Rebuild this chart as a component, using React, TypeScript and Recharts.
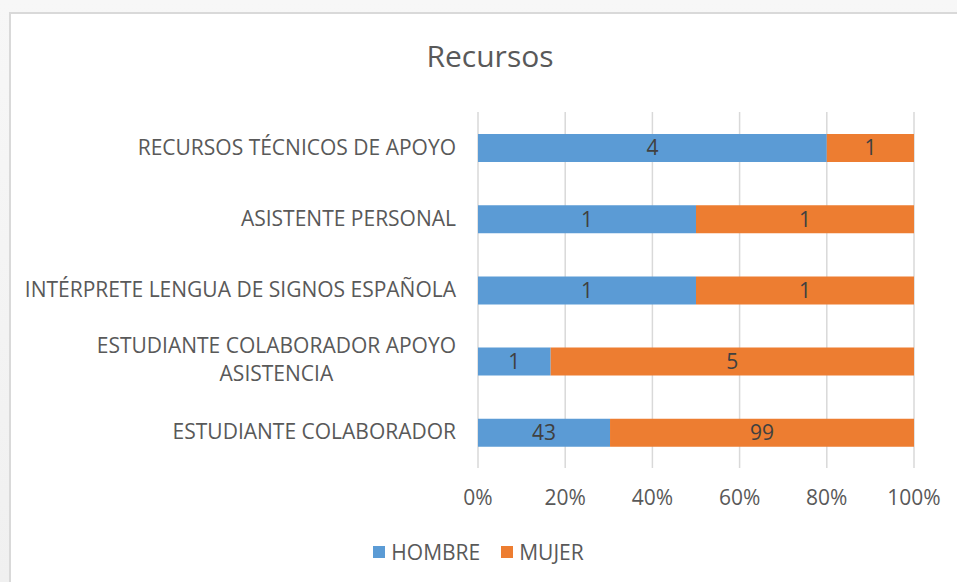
import React, { useLayoutEffect, useRef, useState } from "react";
import { BarChart, Bar, XAxis, YAxis, CartesianGrid, Legend, LabelList } from "recharts";

const categories = [
  "RECURSOS TÉCNICOS DE APOYO",
  "ASISTENTE PERSONAL",
  "INTÉRPRETE LENGUA DE SIGNOS ESPAÑOLA",
  "ESTUDIANTE COLABORADOR APOYO ASISTENCIA",
  "ESTUDIANTE COLABORADOR",
];
const hombre = [4, 1, 1, 1, 43];
const mujer = [1, 1, 1, 5, 99];
const xTicks = [0, 0.2, 0.4, 0.6, 0.8, 1];

const data = categories.map((c, i) => ({ name: c, HOMBRE: hombre[i], MUJER: mujer[i] }));

const FONT = "'Open Sans', sans-serif";
const TEXT = "#595959";
const BLUE = "#5B9BD5";
const ORANGE = "#ED7D31";
const FS = 21;

function CatTick(props: any) {
  const { x, y, payload } = props;
  const label: string = payload.value;
  const ref = useRef<SVGTextElement>(null);
  const [w, setW] = useState(0);
  const lines = label.length > 37
    ? [label.slice(0, label.lastIndexOf(" ")), label.slice(label.lastIndexOf(" ") + 1)]
    : [label];
  useLayoutEffect(() => {
    if (ref.current && lines.length > 1) {
      setW(ref.current.getComputedTextLength());
    }
  }, [label]);
  const right = x - 14;
  if (lines.length === 1) {
    return (
      <text x={right} y={y} dy={7} textAnchor="end" fill={TEXT} fontSize={FS} fontFamily={FONT}>
        {label}
      </text>
    );
  }
  const cx = right - w / 2;
  return (
    <g>
      <text ref={ref} x={cx} y={y - 15} dy={7} textAnchor="middle" fill={TEXT} fontSize={FS} fontFamily={FONT}>
        {lines[0]}
      </text>
      <text x={cx} y={y + 13} dy={7} textAnchor="middle" fill={TEXT} fontSize={FS} fontFamily={FONT}>
        {lines[1]}
      </text>
    </g>
  );
}

function LegendContent() {
  const items = [
    { name: "HOMBRE", color: BLUE },
    { name: "MUJER", color: ORANGE },
  ];
  return (
    <div style={{ display: "flex", justifyContent: "center", gap: 21, fontFamily: FONT, fontSize: FS, color: TEXT, lineHeight: "24px" }}>
      {items.map((it) => (
        <div key={it.name} style={{ display: "flex", alignItems: "center" }}>
          <span style={{ width: 12, height: 12, background: it.color, display: "inline-block", marginRight: 6 }} />
          <span>{it.name}</span>
        </div>
      ))}
    </div>
  );
}

export default function App() {
  return (
    <div style={{ position: "absolute", left: 0, top: 0, width: 957, height: 582, background: "linear-gradient(#f7f7f7, #f0f0f0)", overflow: "hidden" }}>
      <div style={{ position: "absolute", left: 9, top: 12, width: 960, height: 580, background: "#fff", border: "2px solid #d9d9d9", boxSizing: "border-box" }} />
      <div style={{ position: "absolute", left: 0, top: 0 }}>
        <BarChart
          width={957}
          height={582}
          data={data}
          layout="vertical"
          stackOffset="expand"
          margin={{ top: 112, right: 43, bottom: 40, left: 10 }}
          barCategoryGap="30%"
        >
          <CartesianGrid horizontal={false} stroke="#d9d9d9" strokeWidth={1.5} />
          <XAxis
            type="number"
            domain={[0, 1]}
            ticks={xTicks}
            tickFormatter={(v: number) => `${Math.round(v * 100)}%`}
            axisLine={false}
            tickLine={false}
            tick={{ fill: TEXT, fontSize: FS, fontFamily: FONT }}
            tickMargin={16}
            height={50}
          />
          <YAxis
            type="category"
            dataKey="name"
            width={468}
            axisLine={false}
            tickLine={false}
            tick={<CatTick />}
            interval={0}
          />
          <Bar dataKey="HOMBRE" stackId="a" fill={BLUE} barSize={28} isAnimationActive={false}>
            <LabelList dataKey="HOMBRE" position="center" fill="#404040" fontSize={21} fontFamily={FONT} />
          </Bar>
          <Bar dataKey="MUJER" stackId="a" fill={ORANGE} barSize={28} isAnimationActive={false}>
            <LabelList dataKey="MUJER" position="center" fill="#404040" fontSize={21} fontFamily={FONT} />
          </Bar>
          <Legend verticalAlign="bottom" content={<LegendContent />} wrapperStyle={{ bottom: 18, left: 0, width: 957 }} />
        </BarChart>
      </div>
      <div style={{ position: "absolute", left: 0, width: 980, top: 35, textAlign: "center", fontFamily: FONT, fontSize: 30, color: TEXT }}>
        Recursos
      </div>
    </div>
  );
}
